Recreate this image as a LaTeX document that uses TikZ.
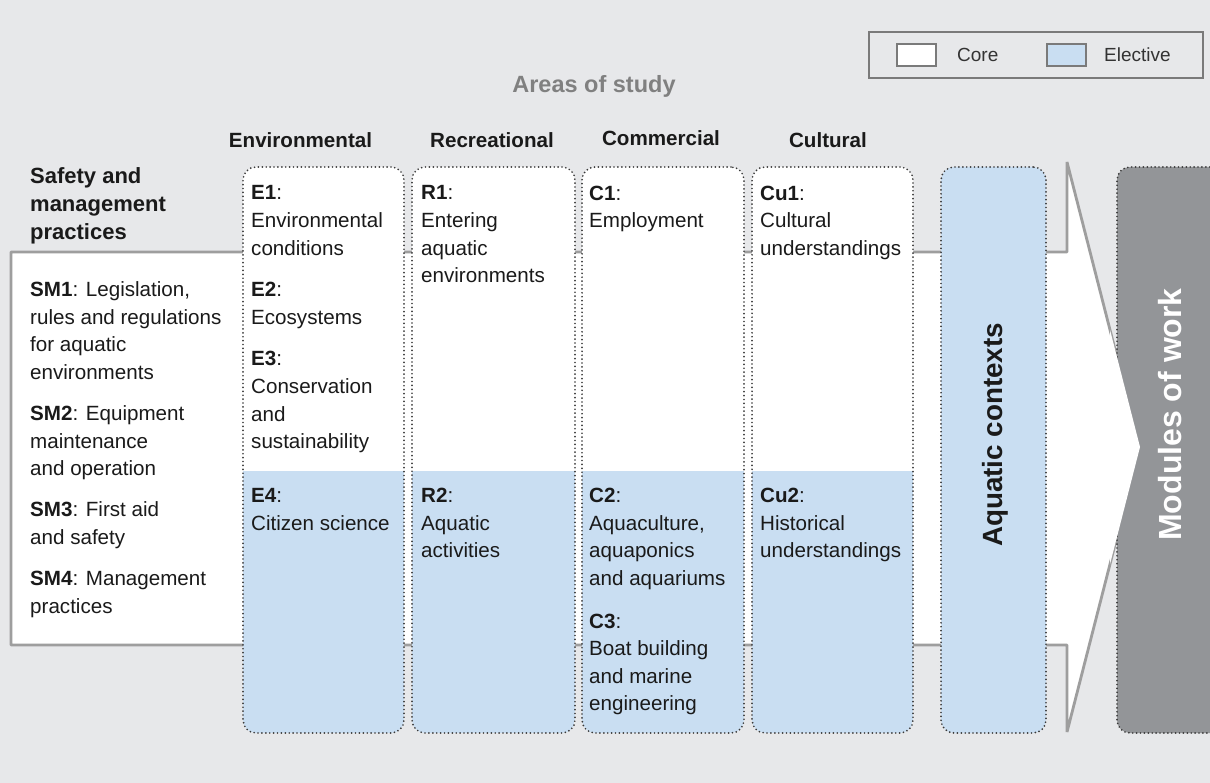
\documentclass[tikz,border=0pt]{standalone}
\usepackage{fontspec}
\setmainfont{Liberation Sans}
\definecolor{bgc}{HTML}{E7E8EA}
\definecolor{elec}{HTML}{C9DEF2}
\definecolor{modc}{HTML}{939598}
\definecolor{bandc}{HTML}{9E9E9E}
\definecolor{dotc}{HTML}{3A3A3A}
\definecolor{legc}{HTML}{7A7A7A}
\definecolor{legtxt}{HTML}{333333}
\definecolor{areac}{HTML}{808080}
\definecolor{txt}{HTML}{1A1A1A}
\newcommand\bodyfont{\fontsize{20.6}{27.6}\selectfont}
\tikzset{
  colbox/.style={draw=dotc, line width=1.9pt, dash pattern=on 0pt off 3.9pt, line cap=round,
    rounded corners=13pt, fill=white, inner sep=0pt, minimum height=566pt},
  twotone/.style={path picture={\fill[elec, sharp corners] (path picture bounding box.south west)
    rectangle ([yshift=262pt]path picture bounding box.south east);}},
  band/.style={draw=bandc, line width=2.8pt, fill=white, line join=bevel},
  body/.style={font=\bodyfont, align=left, inner sep=0pt, anchor=north west, text=txt},
  colhead/.style={font=\bfseries\fontsize{20.6}{24}\selectfont, anchor=base, inner sep=0pt, text=txt},
  legbox/.style={draw=legc, line width=1.5pt, inner sep=0pt},
  swatch/.style={draw=legc, line width=1.2pt, inner sep=0pt, minimum width=39pt, minimum height=22pt},
  legtext/.style={font=\fontsize{19}{22}\selectfont, text=legtxt, anchor=west, inner sep=0pt},
}
\begin{document}
\begin{tikzpicture}[x=1pt,y=-1pt]
\useasboundingbox (0,0) rectangle (1210,783);
\clip (0,0) rectangle (1210,783);
\fill[bgc] (0,0) rectangle (1210,783);

% legend
\node[legbox, minimum width=334pt, minimum height=46pt] (legend) at (1036,55) {};
\node[swatch, fill=white] (coreSw) at (916.5,55) {};
\node[legtext] (coreTx) at (957,55) {Core};
\node[swatch, fill=elec] (elecSw) at (1066.5,55) {};
\node[legtext] (elecTx) at (1104,55) {Elective};

% title and column headings
\node[font=\bfseries\fontsize{23.5}{28}\selectfont, text=areac, anchor=base, inner sep=0pt] (areas) at (594,93) {Areas of study};
\node[colhead] (hE) at (300.5,148) {Environmental};
\node[colhead] (hR) at (492,148) {Recreational};
\node[colhead] (hC) at (661,146) {Commercial};
\node[colhead] (hCu) at (828,148) {Cultural};

% band carrying the safety practices into the modules
\draw[band] (11,252) -- (1067,252) -- (1067,162) -- (1140,447) -- (1067,732)
  -- (1067,645) -- (11,645) -- cycle;

% area columns
\node[colbox, twotone, minimum width=161pt] (colE) at (323.5,450) {};
\node[colbox, twotone, minimum width=163pt] (colR) at (493.5,450) {};
\node[colbox, twotone, minimum width=162pt] (colC) at (663,450) {};
\node[colbox, twotone, minimum width=161pt] (colCu) at (832.5,450) {};
\node[colbox, fill=elec, minimum width=105pt] (aqua) at (993.5,450) {};
\node[colbox, fill=modc, minimum width=133pt] (mods) at (1183.5,450) {};

% arrow tip laid over the modules box
\begin{scope}
  \clip (1110,0) rectangle (1210,783);
  \fill[white] (1067,252) -- (1067,162) -- (1140,447) -- (1067,732) -- (1067,645) -- cycle;
\end{scope}

\node[font=\bfseries\fontsize{27.8}{32}\selectfont, text=txt, rotate=90, anchor=base, inner sep=0pt] (aquaTx) at (1002,435) {Aquatic contexts};
\node[font=\bfseries\fontsize{32}{36}\selectfont, text=white, rotate=90, anchor=base, inner sep=0pt] (modsTx) at (1181,414.5) {Modules of work};

% safety and management practices
\node[body, font=\bfseries\fontsize{22}{27.8}\selectfont] (smHead) at (30,167.5) {Safety and\\management\\practices};
\node[body] (smList) at (30,281.5) {\textbf{SM1}: Legislation,\\rules and regulations\\for aquatic\\environments\\[13.5pt]\textbf{SM2}: Equipment\\maintenance\\and operation\\[13.5pt]\textbf{SM3}: First aid\\and safety\\[13.5pt]\textbf{SM4}: Management\\practices};

% core topics
\node[body] (tE1) at (251,185.5) {\textbf{E1}:\\Environmental\\conditions\\[14pt]\textbf{E2}:\\Ecosystems\\[14pt]\textbf{E3}:\\Conservation\\and\\sustainability};
\node[body] (tR1) at (421,185.5) {\textbf{R1}:\\Entering\\aquatic\\environments};
\node[body] (tC1) at (589,185.5) {\textbf{C1}:\\Employment};
\node[body] (tCu1) at (760,185.5) {\textbf{Cu1}:\\Cultural\\understandings};

% elective topics
\node[body] (tE4) at (251,488.2) {\textbf{E4}:\\Citizen science};
\node[body] (tR2) at (421,488.2) {\textbf{R2}:\\Aquatic\\activities};
\node[body] (tC2) at (589,488.2) {\textbf{C2}:\\Aquaculture,\\aquaponics\\and aquariums\\[15pt]\textbf{C3}:\\Boat building\\and marine\\engineering};
\node[body] (tCu2) at (760,488.2) {\textbf{Cu2}:\\Historical\\understandings};
\end{tikzpicture}
\end{document}
